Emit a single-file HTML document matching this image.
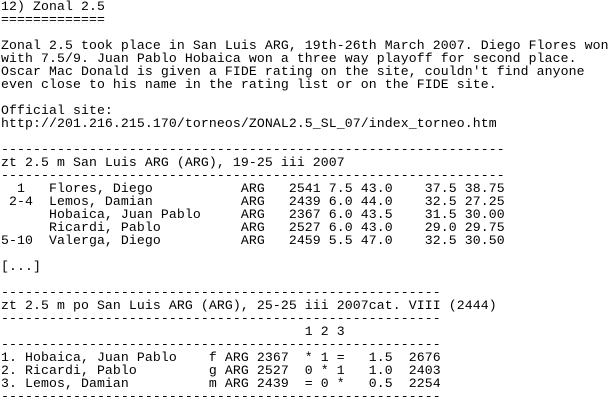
<!DOCTYPE html>
<html><head><meta charset="utf-8"><style>
html,body{margin:0;padding:0;background:#fff;width:614px;height:401px;overflow:hidden}
#doc{position:absolute;left:1px;top:0;font-family:"Liberation Mono",monospace;font-size:13.17px;color:#000}
#doc div{height:13px;line-height:13px;white-space:pre;letter-spacing:0.1px}
</style></head><body>
<div id="doc">
<div>12) Zonal 2.5</div>
<div>=============</div>
<div> </div>
<div>Zonal 2.5 took place in San Luis ARG, 19th-26th March 2007. Diego Flores won</div>
<div>with 7.5/9. Juan Pablo Hobaica won a three way playoff for second place.</div>
<div>Oscar Mac Donald is given a FIDE rating on the site, couldn't find anyone</div>
<div>even close to his name in the rating list or on the FIDE site.</div>
<div> </div>
<div>Official site:</div>
<div>http://201.216.215.170/torneos/ZONAL2.5_SL_07/index_torneo.htm</div>
<div> </div>
<div>---------------------------------------------------------------</div>
<div>zt 2.5 m San Luis ARG (ARG), 19-25 iii 2007</div>
<div>---------------------------------------------------------------</div>
<div>  1   Flores, Diego           ARG   2541 7.5 43.0    37.5 38.75</div>
<div> 2-4  Lemos, Damian           ARG   2439 6.0 44.0    32.5 27.25</div>
<div>      Hobaica, Juan Pablo     ARG   2367 6.0 43.5    31.5 30.00</div>
<div>      Ricardi, Pablo          ARG   2527 6.0 43.0    29.0 29.75</div>
<div>5-10  Valerga, Diego          ARG   2459 5.5 47.0    32.5 30.50</div>
<div> </div>
<div>[...]</div>
<div> </div>
<div>-------------------------------------------------------</div>
<div>zt 2.5 m po San Luis ARG (ARG), 25-25 iii 2007cat. VIII (2444)</div>
<div>-------------------------------------------------------</div>
<div>                                      1 2 3</div>
<div>-------------------------------------------------------</div>
<div>1. Hobaica, Juan Pablo    f ARG 2367  * 1 =   1.5  2676</div>
<div>2. Ricardi, Pablo         g ARG 2527  0 * 1   1.0  2403</div>
<div>3. Lemos, Damian          m ARG 2439  = 0 *   0.5  2254</div>
<div>-------------------------------------------------------</div>
</div>
</body></html>
